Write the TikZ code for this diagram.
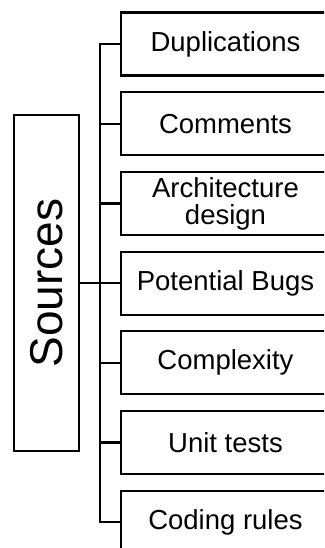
\documentclass[tikz,border=0pt]{standalone}
\usepackage{fontspec}
\setmainfont{Liberation Sans}
\usepackage{tikz}
\usetikzlibrary{positioning}
\tikzset{
  item/.style={
    rectangle, draw=black, line width=2.2pt, fill=white,
    minimum width=209pt, minimum height=63pt, align=center,
    inner sep=0pt, font=\fontsize{27.5}{27}\selectfont
  },
  rootbox/.style={
    rectangle, draw=black, line width=2.2pt,
    minimum width=65pt, minimum height=336pt, inner sep=0pt
  },
  link/.style={line width=2.2pt, color=black},
}

\begin{document}
\begin{tikzpicture}[x=1pt, y=-1pt, node distance=14.5pt]

  \useasboundingbox (0,0) rectangle (324,548);
  \clip (0,0) rectangle (324,548);

  \node[rootbox] (src) at (46.5,283) {};
  \node[rotate=90, font=\fontsize{46}{46}\selectfont] (srclabel) at (src.center) {Sources};

  \node[item] (dup) at (225.5,44) {Duplications};
  \node[item, below=of dup] (com) {Comments};
  \node[item, below=of com] (arch) {Architecture\\design};
  \node[item, below=of arch] (bugs) {Potential Bugs};
  \node[item, below=of bugs] (cplx) {Complexity};
  \node[item, below=of cplx] (unit) {Unit tests};
  \node[item, below=of unit] (rules) {Coding rules};

  \coordinate (spine) at (100,0);

  % tree lines
  \draw[link] (dup.west) -- (dup.west -| spine) -- (rules.west -| spine) -- (rules.west);
  \draw[link] (com.west) -- (com.west -| spine);
  \draw[link] (arch.west) -- (arch.west -| spine);
  \draw[link] (bugs.west) -- (bugs.west -| spine);
  \draw[link] (cplx.west) -- (cplx.west -| spine);
  \draw[link] (unit.west) -- (unit.west -| spine);
  \draw[link] (src.east) -- (src.east -| spine);

\end{tikzpicture}
\end{document}
